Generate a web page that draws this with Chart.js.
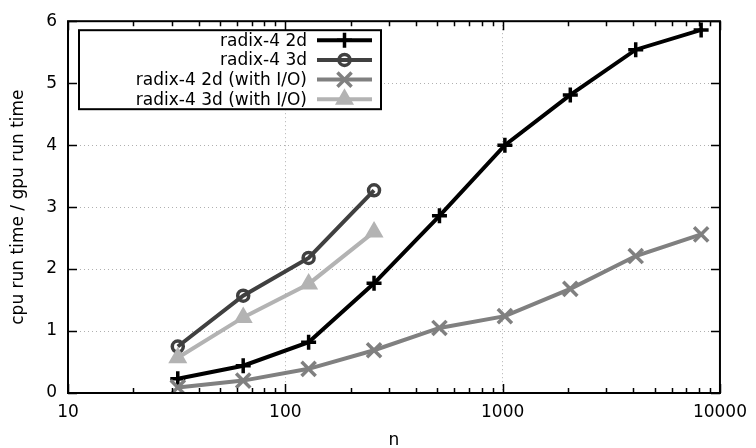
<!DOCTYPE html>
<html>
<head>
<meta charset="utf-8">
<script src="https://cdn.jsdelivr.net/npm/chart.js@4.4.1/dist/chart.umd.min.js"></script>
<style>
  html, body { margin: 0; background: #fff; }
  #wrap { width: 756px; height: 448px; position: relative; }
</style>
</head>
<body>
<div id="wrap"><canvas id="chart"></canvas></div>
<script>
// ---- data ----
const nValues = [32, 64, 128, 256, 512, 1024, 2048, 4096, 8192];
const radix2d = [0.23, 0.44, 0.82, 1.77, 2.86, 4.0, 4.81, 5.54, 5.86];
const radix3d = [0.75, 1.57, 2.18, 3.27];
const radix2dIO = [0.09, 0.2, 0.39, 0.69, 1.05, 1.24, 1.68, 2.21, 2.56];
const radix3dIO = [0.57, 1.22, 1.76, 2.6];
const xTicks = [10, 100, 1000, 10000];
const yTicks = [0, 1, 2, 3, 4, 5, 6];
const seriesLabels = ['radix-4 2d', 'radix-4 3d', 'radix-4 2d (with I/O)', 'radix-4 3d (with I/O)'];

const FONT = "'DejaVu Sans', sans-serif";
Chart.defaults.font.family = FONT;
Chart.defaults.font.size = 17;
Chart.defaults.color = '#000';

function pts(vals) {
  return vals.map((v, i) => ({ x: nValues[i], y: v }));
}

// gnuplot draws later plots on top, so lower order for later series
function series(idx, vals, color, style, radius, fill) {
  return {
    label: seriesLabels[idx],
    order: 3 - idx,
    data: pts(vals),
    borderColor: color,
    backgroundColor: color,
    borderWidth: 4,
    pointStyle: style,
    pointRadius: radius,
    pointBorderWidth: 3.5,
    pointBorderColor: color,
    pointBackgroundColor: fill,
    pointHoverRadius: radius,
    tension: 0
  };
}

// frame, inward ticks and the key, drawn like gnuplot does
const framePlugin = {
  id: 'frame',
  afterDraw(chart) {
    const { ctx, chartArea: a, scales } = chart;
    const xs = scales.x, ys = scales.y;
    ctx.save();
    ctx.strokeStyle = '#000';
    ctx.lineWidth = 1.5;
    ctx.beginPath();
    xTicks.forEach(v => {
      const px = Math.round(xs.getPixelForValue(v)) + 0.5;
      ctx.moveTo(px, a.bottom); ctx.lineTo(px, a.bottom - 9);
      ctx.moveTo(px, a.top); ctx.lineTo(px, a.top + 9);
    });
    // minor ticks of the log axis
    for (let d = 10; d < 10000; d *= 10) {
      for (let k = 2; k <= 9; k++) {
        const px = Math.round(xs.getPixelForValue(k * d)) + 0.5;
        ctx.moveTo(px, a.bottom); ctx.lineTo(px, a.bottom - 5);
        ctx.moveTo(px, a.top); ctx.lineTo(px, a.top + 5);
      }
    }
    yTicks.forEach(v => {
      const py = Math.round(ys.getPixelForValue(v)) + 0.5;
      ctx.moveTo(a.left, py); ctx.lineTo(a.left + 9, py);
      ctx.moveTo(a.right, py); ctx.lineTo(a.right - 9, py);
    });
    ctx.stroke();
    ctx.lineWidth = 2;
    ctx.strokeRect(a.left, a.top, a.right - a.left, a.bottom - a.top);

    // key box
    const bx = a.left + 11, by = a.top + 9, bw = 302, bh = 79;
    ctx.fillStyle = '#fff';
    ctx.fillRect(bx, by, bw, bh);
    ctx.lineWidth = 2;
    ctx.strokeRect(bx, by, bw, bh);
    ctx.font = '17px ' + FONT;
    ctx.textAlign = 'right';
    ctx.textBaseline = 'middle';
    chart.data.datasets.forEach((ds, i) => {
      const y = by + 10 + i * 19.7;
      ctx.fillStyle = '#000';
      ctx.fillText(ds.label, bx + 228, y + 1);
      ctx.strokeStyle = ds.borderColor;
      ctx.lineWidth = 4;
      ctx.beginPath();
      ctx.moveTo(bx + 238, y); ctx.lineTo(bx + 293, y);
      ctx.stroke();
      ctx.lineWidth = 3.5;
      ctx.fillStyle = ds.pointBackgroundColor;
      Chart.helpers.drawPoint(ctx, {
        pointStyle: ds.pointStyle, radius: ds.pointRadius, borderWidth: 3.5, rotation: 0
      }, bx + 265.5, y);
    });
    ctx.restore();
  }
};

new Chart(document.getElementById('chart'), {
  type: 'line',
  data: {
    datasets: [
      series(0, radix2d, '#000000', 'cross', 7.5, '#000000'),
      series(1, radix3d, '#404040', 'circle', 5.5, 'rgba(0,0,0,0)'),
      series(2, radix2dIO, '#808080', 'crossRot', 10, '#808080'),
      series(3, radix3dIO, '#b3b3b3', 'triangle', 7.5, '#b3b3b3')
    ]
  },
  options: {
    responsive: true,
    maintainAspectRatio: false,
    animation: false,
    layout: { padding: { top: 17, right: 30, left: 0, bottom: 0 } },
    plugins: { legend: { display: false }, tooltip: { enabled: false } },
    scales: {
      x: {
        type: 'logarithmic',
        min: 10,
        max: 10000,
        afterBuildTicks: s => { s.ticks = xTicks.map(v => ({ value: v })); },
        afterFit: s => { s.height = 55; },
        ticks: { padding: 9, maxRotation: 0, autoSkip: false, callback: v => String(v) },
        grid: { color: '#b0b0b0', lineWidth: 1, drawTicks: false },
        border: { display: false, dash: [1, 3] },
        title: { display: true, text: 'n', font: { size: 17, lineHeight: 0.85 }, padding: 0 }
      },
      y: {
        min: 0,
        max: 6,
        afterBuildTicks: s => { s.ticks = yTicks.map(v => ({ value: v })); },
        afterFit: s => { s.width = 68; },
        ticks: { padding: 11 },
        grid: { color: '#b0b0b0', lineWidth: 1, drawTicks: false },
        border: { display: false, dash: [1, 3] },
        title: { display: true, text: 'cpu run time / gpu run time', font: { size: 17, lineHeight: 1 }, padding: { top: 10 } }
      }
    }
  },
  plugins: [framePlugin]
});
</script>
</body>
</html>
